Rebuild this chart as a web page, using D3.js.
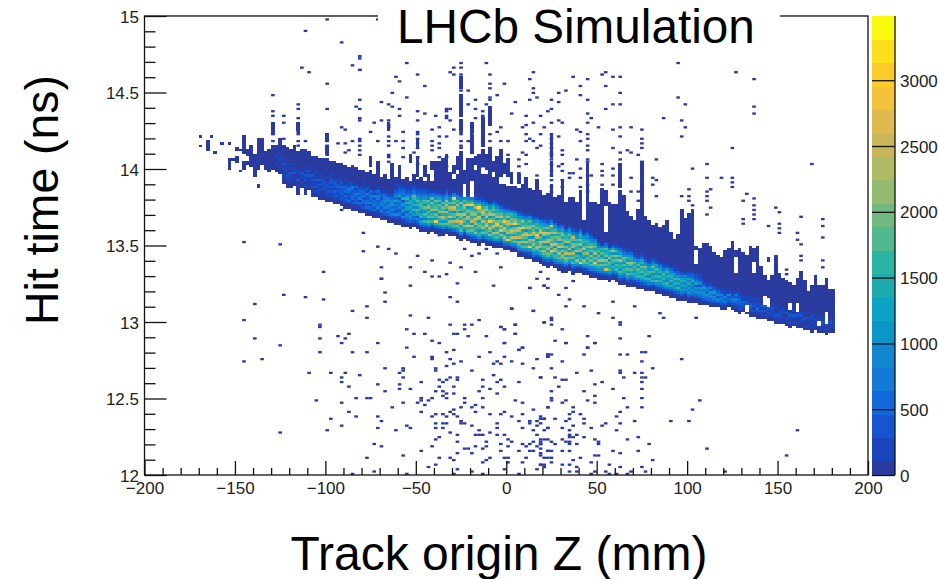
<!DOCTYPE html>
<html>
<head>
<meta charset="utf-8">
<script src="https://cdn.jsdelivr.net/npm/d3@7/dist/d3.min.js"></script>
<style>
html,body{margin:0;padding:0;background:#fff}
svg{display:block;font-family:"Liberation Sans",Arial,sans-serif}
</style>
</head>
<body>
<svg id="chart" width="939" height="579"></svg>
<script>
const xTitle = "Track origin Z (mm)";
const yTitle = "Hit time (ns)";
const chartTitle = "LHCb Simulation";
const zMajorTicks = [-200,-150,-100,-50,0,50,100,150,200];
const zMinorTicks = [-190,-180,-170,-160,-140,-130,-120,-110,-90,-80,-70,-60,-40,-30,-20,-10,10,20,30,40,60,70,80,90,110,120,130,140,160,170,180,190];
const tMajorTicks = [12,12.5,13,13.5,14,14.5,15];
const tMinorTicks = [12.1,12.2,12.3,12.4,12.6,12.7,12.8,12.9,13.1,13.2,13.3,13.4,13.6,13.7,13.8,13.9,14.1,14.2,14.3,14.4,14.6,14.7,14.8,14.9];
const countTicks = [0,500,1000,1500,2000,2500,3000];
const countMax = 3488;
const levelEdges = [103,281,459,637,815,993,1171,1349,1527,1705,1883,2061,2239,2417,2595,2773,2951,3129,3307];
const levelColors = ["#2a3a9f","#1a45bd","#1556d0","#1168d8","#137ad5","#1287d0","#0a97c8","#0ba4c6","#1eabb0","#2db5a3","#52b890","#72b97f","#94bb72","#b0ba62","#cab55b","#e0ba4e","#f3c13a","#fdcb28","#fadf1a","#f9f90e"];
const zBinWidth = 2, tBinWidth = 0.015;

// Loose vertical runs of low-count cells: [z column, first t bin, last t bin]
const looseRuns = [[15,143,143],[15,147,147],[17,141,145],[18,147,147],[19,140,140],[21,144,144],[23,144,144],[23,133,137],[24,137,137],[25,136,138],[25,141,142],[26,132,132],[26,141,141],[27,133,136],[27,140,147],[28,139,141],[28,135,136],[29,134,143],[30,130,139],[31,133,146],[31,125,126],[32,135,146],[33,133,140],[34,132,141],[35,133,143],
[73,136,139],[75,130,138],[77,130,134],[80,130,136],[81,130,136],[83,131,139],[85,131,134],[89,130,137],[92,132,139],[93,134,141],[95,131,142],[97,130,138],[98,130,141],[100,130,137],[62,134,138],[68,131,135],[70,131,134],[64,132,136],
[87,150,154],[87,156,165],[87,168,173],[95,152,160],[93,143,155],[90,140,147],[90,149,153],[67,150,153],[42,150,153],[35,148,153],[50,140,143],[50,145,148],[75,142,146],[112,130,136],[112,138,148],[137,124,136],[131,125,135],[122,124,135],
[79,133,136],[82,134,137],[86,133,138],[91,135,138],[94,133,139],[96,132,136],[99,131,135],[101,127,131],[103,127,130],[105,126,129],[108,125,128]];

// Main band, per z column from bandFirstColumn: lowest and highest filled t bin
const bandFirstColumn = 36;
const bandLowBin = [132,131,127,125,125,126,122,125,122,124,121,121,120,120,119,119,118,118,117,116,116,115,115,114,114,113,113,112,112,111,111,110,110,109,109,108,108,107,108,107,106,106,105,106,105,105,104,105,104,104,103,102,103,102,101,101,100,101,100,100,99,99,99,98,98,97,97,95,95,94,94,93,93,92,91,90,91,90,89,88,88,89,87,88,88,87,87,86,86,85,85,85,84,85,84,83,83,82,82,82,81,81,80,80,80,79,79,78,78,77,77,76,76,76,75,75,75,74,74,74,73,73,73,72,72,73,72,71,70,71,70,69,69,68,68,68,67,67,66,66,66,65,64,65,64,64,63,63,62,63,62,62,61,62,62];
const bandHighBin = [143,146,143,142,141,143,140,141,141,140,138,138,137,137,137,136,136,135,135,134,133,134,133,132,132,131,132,130,131,129,130,128,130,129,130,128,129,127,130,128,129,127,130,127,130,129,133,133,131,128,130,140,132,130,137,132,134,130,130,132,129,131,126,126,125,125,125,124,126,125,124,123,124,123,121,122,126,120,121,127,118,120,120,118,123,110,123,118,118,117,124,123,118,117,117,123,121,114,112,110,115,123,112,110,108,109,107,108,110,105,102,104,115,111,113,115,99,98,100,100,99,96,95,94,97,98,101,97,98,96,95,99,98,99,90,86,94,86,95,87,85,84,83,82,85,88,84,79,82,86,82,82,85,80,80];
// Cells left white inside the band: [z column, first t bin, last t bin]
const bandHoles = [[127,106,116],[152,92,97],[172,85,92],[188,66,70],[186,65,66],[171,74,77],[166,71,73],[172,73,76],[178,72,74],[180,71,74],[90,121,127],[88,121,126],[163,88,94],[168,88,92]];
// Colour level of each cell, climbing from the low bin (base-20 digit per cell); cells above are level 0
const bandLevels = [
"000100110","00010011010","000101102010","0001020110100","00101120101","0001021101","000110210110","00101120100","00011021201","001011202010",
"0010211202100","00102112101","001120212010","0010212211010","00112122101","001121212201","0012131222110","001212132110","00121322312010","0012231323101",
"00132223421100","00121332234110","0013223421310","00123142332100","00213324231101","001324322412100","0023142342310","00132433251200","001243324423110","00134254323210",
"0023253454321","001342453542100","0024343655321",
"0012523343635321010","00124325345274321100","00125246375283432100","00234526748595321100","00134647586984532110","0024365958679a43210","00135278a597a7532110",
"00247398579a98543210","0035947a68b59a65321","00147a5b8a6ca7b5421","002596a97c98b6a4310","00258h69b5ca97b6521","0035a79c6d98b5a7421","00147a6be8c9b7a5431","0036b79a8d6ae9c75321","00258ac6f97bd8a6531","0036a8d7ba5cf7b9h641",
"00257b8ea6d9b8e7a541","0036a97cf8bd6a97c6521","00258d7ab6e98cf7a631","0037a8f97cd8ba6ga752","00257b9d6ea8cb97hb741","0036c8a7dbf9ca7e96421","00259869ba7df8acia631","0036b7da8e96cfb96421","00257a98fca7eb8da631","0036c7be98ha6db9641",
"002589d6bf8ca7e7b9631","0036a8e97dhb6ca89531","00257c7fad8b8ea7631","0036ae96cf7bha98641","0036h97db8aed6c9631","00258ad7cf96eab8962","0035b8e7adb6hca7741","00257ac6e98df7b98631","0036a7d8be97ha8c7521","00146b8e7afc6da98631",
"00257h8ac6e98db7a641","00358a7d9e6bfa8c7531","00257be896dha7b89631","00147a7cbe8a6fd98641","00257ad8b7e96cf8a7631","00136ab7da6ec8af7b7421","00257ah6be8ca7d98g641","00358a7dc6e98b7d97531","00147b8d97fa6cb8a6421","001257ae8c6da8b7ca7531",
"00147ac7e98b6da98631","00257b8d6e97ca8b7631","00135a7b8d96cb7ae7421","00258c7a6d98b7a6531","0025h8975ca6d8b89631","00147ac68b7da798631","00257a8b6c97b8975421","00146a7b8c6a8d96531","00257ag8b6d97a8641","001469a7c8b7a8531",
"002468b7d96a7941","0035f7a8c6b97a531","00146a79b6c97941","00247968a7b6c831","00135a7a6b8c69421","00247a6987d6a7531","00146897a69b6421","00247b6a78c69631","0013597a6bd78531","00247968a7a6421",
"00135979a6a75210","0024796a8b697321","0013597a79b6521","00247958a67421","00149685a7b6421","00136a5976a5721","00245969597531","001368697a6421","00247956869621","00135859697531",
"0024758695631","00135958696321","0024757687421","0013647586521","00236474847321","00134636485321","0023546274321","00134546253211","002456374210","00346354210",
"002354625210","00245363210","0034253210","00234352110","0024342110","0023251100","002342110","00123424100","00213232110","012231100",
"0013221100","0012320110","0021211100","00123120100","001212100","010213010","0012120100","001112010","0012101100","010211010",
"001011100","0011021000","00101210100","010120100","0010121000","001102100","0100120100","001011010","0010102100","001020100",
"0010201000","010120100","0010211000","00102100","00101000"];

// Scattered single hits above the band: [z in mm, [t in ns, ...]]
const upperHits = [
[-129,[14.477,14.381,14.341,14.287,14.25,14.228,14.189]],[-123,[14.341,14.307,14.2]],[-115,[14.42,14.385,14.335,14.287,14.265,14.243,14.222,14.189,14.158]],
[-113,[14.664]],[-111,[14.898,14.178]],[-109,[14.625]],[-99,[14.981,14.551,14.387,14.21,14.189,14.156,14.123,14.09]],[-93,[14.163]],[-91,[14.83,14.28]],
[-89,[14.25,14.167,14.112]],[-87,[14.119]],[-85,[14.68,14.182]],[-83,[14.411]],[-81,[14.739,14.72,14.643,14.64,14.455,14.385,14.337,14.32,14.2,14.178,14.15,14.123,14.09]],
[-75,[14.237]],[-73,[14.298]],[-72,[14.981]],[-71,[14.189]],[-69,[14.433,14.311]],[-65,[14.418,14.324,14.287,14.265,14.21,14.182,14.15,14.1,14.07,14.05]],
[-63,[14.498,14.407]],[-61,[14.603,14.182]],[-59,[14.575,14.392,14.341]],[-57,[14.243,14.182,14.145,14.07]],[-55,[14.686,14.472]],[-51,[14.106]],
[-49,[14.614,14.378,14.32,14.243,14.222,14.2,14.171,14.145,14.07,14.036]],[-45,[14.535,14.357,14.014,13.98]],[-41,[14.25,14.189,14.15,14.119]],[-39,[14.348]],
[-37,[14.265,14.215,14.167,14.134,14.08,14.036,14.0]],[-33,[14.389,14.374,14.352,14.33,14.215,14.07,14.014]],[-31,[14.636,14.385,14.32]],[-29,[14.664,14.62,14.25]],
[-25,[14.69,14.668,14.614,14.581,14.559,14.538,14.511,14.476,14.429,14.4,14.374,14.341,14.309,14.265,14.243,14.222,14.189,14.156,14.134,14.1,14.069,14.036,14.0,13.97]],
[-21,[14.516,14.429,14.178]],[-19,[14.287,14.265,14.222,14.189,14.156,14.123,14.069,14.036,13.993]],[-17,[14.446,14.385,14.33]],
[-13,[14.374,14.352,14.33,14.298,14.265,14.243,14.21,14.189,14.156,14.123,14.058,14.014]],[-11,[14.69,14.418]],
[-9,[14.614,14.564,14.527,14.468,14.446,14.385,14.352,14.33,14.309,14.222,14.189,14.134,14.069,14.025,13.98]],[-5,[14.476,14.243,14.036]],[-3,[14.276,14.178,14.112,14.09,13.993]],
[-1,[14.559]],[1,[14.189,14.1,14.069,14.058]],[3,[14.357]],[5,[14.44]],[6,[14.069,14.014,13.977]],[9,[14.276,14.112]],[11,[14.346,14.287,14.228,14.189,14.1,14.032]],
[13,[14.588,14.45,14.2]],[15,[14.636,14.527,14.498,14.309,14.182]],[17,[14.461,14.141,13.96]],[19,[14.341,14.22,14.15]],[21,[14.265]],[23,[14.374]],
[25,[14.455,14.396,14.309,14.228,14.193,14.167,14.14,14.112,14.09,14.058,14.025,13.993,13.96,13.927,13.888,13.851]],[29,[14.498,14.44,14.315,14.206,14.014]],
[31,[14.309,14.123,14.1,14.032,13.993,13.927,13.888]],[33,[14.505]],[35,[13.975,13.949]],[37,[14.607,13.971]],[39,[14.254,14.065]],[41,[14.549,14.477,14.248,14.189,14.0,13.938,13.884]],
[45,[14.588,14.455,14.359,14.298,14.228,14.2,14.15,14.123,14.069,14.047,13.956,13.895,13.851]],[47,[14.337,13.96]],[51,[14.265]],[53,[14.62,14.025,13.988,13.96,13.895,13.851]],
[55,[14.636,14.538,14.396]],[59,[14.607,14.429,14.25,14.139,14.004,13.96,13.9]],[63,[14.607,14.498,14.418,14.276,14.206,14.112,14.058,14.014,13.971,13.927,13.895]],
[67,[14.119]],[69,[14.265,14.112,13.938,13.851]],[73,[14.09,13.851,13.796]],[75,[14.259,14.2,14.171,14.134,14.047,14.004,13.949,13.873,13.84]],[81,[13.949,13.905]],
[83,[14.069,13.927,13.823]],[87,[14.337]],[95,[14.686,14.468]],[97,[14.324,14.215,13.818]],[99,[14.424,14.276]],[101,[13.873,13.823,13.796]],[103,[14.0,13.764]],
[111,[14.032,13.949,13.851,13.823,13.796,13.698]],[113,[13.873,13.742]],[119,[13.945]],[125,[14.145,13.949,13.91,13.884]],[127,[14.636]],[131,[13.785,13.67,13.644]],[133,[13.84]],
[137,[14.581,14.4,14.363,13.807,13.764,13.731,13.698,13.676]],[145,[13.629]],[149,[13.753]],[151,[13.72,13.644,13.611,13.578]],[155,[13.35,13.317]],[161,[13.583,13.539]],
[163,[13.69,13.502,13.437,13.404]],[169,[14.04]],[175,[13.666,13.622,13.55,13.404,13.36]]];

// Scattered single hits below the band: [z in mm, t in ns]
const lowerHits = [
[-145,13.515],[-125,13.509],[-91,13.727],[-79,13.583],[-79,13.465],[-71,13.491],[-65,13.485],[-61,13.454],[-49,13.432],[-41,13.402],[-31,13.38],[-69,13.36],[-53,13.36],[-45,13.334],[-25,13.352],[-17,13.334],[-3,13.352],[-101,13.321],[-69,13.28],[-41,13.291],[-37,13.291],[-33,13.306],[-39,13.578],[-37,13.563],[-23,13.478],[-19,13.426],[-15,13.441],[-11,13.485],[-5,13.448],
[19,13.334],[17,13.278],[23,13.278],[37,13.267],[13,13.223],[21,13.236],[23,13.229],[33,13.223],[28,13.184],[35,13.149],[33,13.097],[43,13.097],[3,13.081],[15,13.066],[51,13.06],[59,13.136],[71,13.11],[59,13.029],[85,13.06],[87,13.029],[105,13.029],[25,13.029],[25,13.012],[21,12.996],[25,12.977],[31,12.955],[63,13.0],[63,12.985],[5,12.983],[-3,12.968],[-1,12.955],[5,12.925],[45,12.907],[27,12.885],[33,12.863],[63,12.892],[79,12.907],[49,12.855],[45,12.833],[9,12.833],[7,12.822],[-1,12.863],
[-123.3,13.179],[-110.7,13.166],[-100.8,13.155],[-138.9,13.118],[-66.8,13.192],[-66.8,13.127],[-68.6,13.275],[-53.2,13.231],[-26.8,13.253],[-7.2,13.24],[12.9,13.225],[21.2,13.24],[-31.1,13.166],[-26.8,13.133],[-77.3,13.098],[-85,13.074],[2.8,13.083],[15.1,13.068],[-77.3,13.022],[-53.2,13.035],[-43,13.029],[-144.8,13.005],[-31.1,12.987],[-23,12.979],[-19,12.979],[-14.9,13.005],[21.2,12.998],[4.8,12.987],[-3.1,12.968],[-1.1,12.955],[-23,12.955],[-102.8,12.976],[-102.8,12.963],[-55,12.946],[-51,12.924],[-45.1,12.917],[-28.9,12.93],[-26.8,12.924],[4.8,12.924],[-21,12.907],[-11,12.907],[-92.9,12.907],[-87,12.917],[-138.9,12.894],[-102.8,12.894],[-89,12.887],[-41,12.88],[-37.1,12.865],[-70.8,12.87],[-1.1,12.865],[-125,12.85],[-91,12.856],[-55,12.832],[8.9,12.832],[6.8,12.819],[-102.8,12.806],[-85,12.806],[-77.3,12.806],[-33.3,12.806],[-30,12.813],[-9,12.795],[-51,12.774],[-41,12.774],[-41,12.752],[-1.1,12.774],[-14.9,12.767],[-31.1,12.758],[-24.8,12.739],[-5.1,12.745],[2.8,12.745],[-144.8,12.745],[-134.9,12.756],[17.1,12.752],[23,12.785],[23,12.767],[8.9,12.73],[-7,12.721],[-3.1,12.721],[-28.9,12.721],[-33.3,12.713],[15.1,12.7],[-39.2,12.7],[-66.8,12.691],[-57,12.697],[-57,12.682],[-58.9,12.669],[-40,12.675],[-19,12.675],[-108.9,12.669],[-97,12.669],[-89,12.66],[-81.3,12.654],[-57,12.645],[-31.1,12.645],[-26.8,12.645],[-26.8,12.623],[-7,12.654],[19.2,12.645],[-91,12.632],[-37.1,12.623],[-33.3,12.617],[-13,12.623],[-3.1,12.623],[-91,12.601],[-47.8,12.608],[-35.3,12.601],[-5.1,12.601],[6.8,12.601],[-70.8,12.595],[-58.9,12.595],[-87,12.58],[-37.1,12.571],[-28.9,12.575],[-13,12.571],[-9,12.56],[-1.3,12.58],[-53,12.564],[-58.9,12.556],[-66.8,12.542],[-39.2,12.542],[-35.3,12.542],[-14.9,12.549],[-5.1,12.529],[-35.3,12.519],[-28.9,12.527],[-33.3,12.527],[-47,12.51],[-41,12.505],[-23,12.51],[-83,12.505],[-77.3,12.497],[-75,12.505],[-33.3,12.497],[-13,12.497],[4.8,12.49],[-104.9,12.482],[-91,12.468],[-57,12.468],[-49.1,12.475],[-47,12.482],[-43,12.49],[-23,12.475],[8.9,12.475],[-45.1,12.458],[-16.9,12.458],[-62.9,12.444],[-25,12.438],[-19,12.444],[-13,12.438],[15.1,12.429],[23,12.438],[-87,12.42],[-47,12.414],[-28.9,12.425],[-16.9,12.407],[-1.1,12.407],[-9,12.399],[-39.2,12.394],[-31.1,12.407],[-28.9,12.394],[-83,12.383],[-70.8,12.377],[-41,12.377],[-35.3,12.39],[-34,12.377],[-26.8,12.377],[-3.1,12.39],[2.8,12.377],[8.9,12.399],[-97,12.368],[-68.8,12.357],[-24.8,12.353],[6.8,12.359],[13.1,12.353],[17.1,12.353],[19.2,12.377],[21.2,12.368],[-91,12.325],[-55,12.318],[-39.2,12.331],[-35.3,12.331],[-33.3,12.338],[-25,12.331],[-23,12.331],[-19,12.32],[-5.1,12.331],[13.1,12.338],[17.1,12.325],[-70.8,12.309],[-39.2,12.309],[-35.3,12.3],[-5.1,12.309],[8.9,12.309],[23,12.3],[-99,12.294],[-61,12.294],[-53,12.309],[-14.9,12.294],[-125,12.279],[-31.1,12.279],[-9,12.279],[15.1,12.287],[-26.8,12.257],[-16.9,12.257],[-14.9,12.257],[-13,12.263],[-5.1,12.263],[-1.1,12.27],[17.1,12.257],[-37.1,12.24],[-39.2,12.233],[1,12.233],[21.2,12.233],[19.2,12.224],[-26.8,12.22],[-11,12.211],[2.8,12.211],[15.1,12.211],[-72.8,12.196],[-68.8,12.189],[-41,12.189],[-3.1,12.205],[8.9,12.205],[11,12.189],[13.1,12.196],[19.2,12.205],[-16.9,12.183],[-11,12.183],[1,12.183],[17.1,12.181],[-23,12.174],[-21,12.174],[-13,12.174],[-4,12.165],[6.8,12.161],[-47,12.165],[15.1,12.159],[12.9,12.15],[23,12.15],[-26.8,12.146],[-19,12.146],[-57,12.135],[19.2,12.137],[1,12.113],[-9,12.12],[-31.1,12.12],[-77.3,12.107],[-37.1,12.107],[-1.1,12.107],[-28.9,12.098],[10.7,12.113],[21.2,12.113],[-11,12.098],[1,12.083],[-39.2,12.07],[-13,12.078],[8.9,12.083],[-43,12.054],[-26.8,12.045],[-1.1,12.045],[17.1,12.045],[19.2,12.07],[21.2,12.054],[-19,12.024],[-28.9,12.011],[-85,12.006],[-72.8,12.022],[6.8,12.006],[-55,12.001],[-13,12.001],
[33,12.865],[45,12.834],[49,12.856],[23,12.788],[25,12.782],[23,12.766],[43,12.788],[63,12.782],[66,12.782],[75,12.806],[77,12.804],[75,12.747],[31,12.738],[97,12.758],[81,12.699],[25,12.692],[19.6,12.644],[27,12.644],[39,12.662],[47,12.675],[63,12.675],[63,12.662],[71,12.668],[75,12.668],[65,12.631],[75,12.631],[77,12.631],[31,12.616],[33,12.625],[49,12.594],[53,12.601],[75,12.601],[29,12.57],[25,12.555],[43,12.555],[59,12.564],[75,12.564],[49,12.518],[25,12.503],[25,12.487],[33,12.494],[45,12.494],[65,12.503],[75,12.503],[31,12.468],[49,12.468],[107,12.481],[23,12.437],[37,12.442],[37,12.42],[67,12.437],[75,12.437],[103,12.429],[41,12.405],[63,12.413],[35,12.392],[19.6,12.374],[21,12.368],[27,12.368],[35,12.368],[33,12.354],[43,12.368],[61,12.376],[71,12.359],[91,12.354],[101,12.346],[19.6,12.337],[37,12.324],[43,12.33],[55,12.337],[63,12.337],[53,12.317],[21,12.293],[23,12.3],[31,12.3],[35,12.293],[47,12.3],[61,12.293],[161,12.293],[35,12.269],[39,12.269],[37,12.254],[43,12.241],[35,12.241],[73,12.241],[23,12.232],[19.6,12.226],[25,12.219],[31,12.226],[33,12.217],[35,12.217],[49,12.226],[67,12.232],[27,12.208],[19.6,12.202],[35,12.202],[39,12.202],[51,12.202],[51,12.215],[79,12.202],[111,12.171],[19.6,12.173],[35,12.165],[25,12.158],[23,12.15],[31,12.15],[59,12.15],[63,12.143],[73,12.165],[19.6,12.134],[155,12.134],[22,12.112],[24,12.112],[41,12.112],[49,12.128],[51,12.128],[81,12.097],[37,12.091],[47,12.082],[25,12.082],[21,12.075],[19.6,12.067],[35,12.075],[31,12.067],[21,12.051],[39,12.051],[57,12.06],[63,12.051],[75,12.058],[49,12.03],[55,12.021],[35,12.021],[39,12.03],[47,12.014],[57,12.006],[61,12.006],[67,12.006],[69,12.03],[77,12.03],[121,12.021]];

const svg = d3.select("#chart");
const x = d3.scaleLinear().domain([-200,200]).range([144.5,868]);
const y = d3.scaleLinear().domain([12,15]).range([475,16]);
const barY = d3.scaleLinear().domain([0,countMax]).range([475,16]);
const heat = d3.scaleThreshold().domain(levelEdges).range(levelColors);
const countOfLevel = l => l === 0 ? 50 : l >= levelEdges.length ? countMax : (levelEdges[l-1]+levelEdges[l])/2;
const zOfCol = c => -200 + c*zBinWidth;
const tOfBin = b => 12 + b*tBinWidth;
const isHole = (c,b) => bandHoles.some(([hc,a,e]) => hc===c && b>=a && b<=e);

const bandCells = [];
bandLowBin.forEach((low,i)=>{
  const col = bandFirstColumn+i, s = bandLevels[i], top = Math.max(bandHighBin[i], low+s.length-1);
  for(let b=low;b<=top;b++){
    const ch = s[b-low];
    if(!isHole(col,b)) bandCells.push({col,bin:b,count:countOfLevel(ch?parseInt(ch,20):0)});
  }
});
const looseCells = [];
looseRuns.forEach(([col,a,b])=>{for(let k=a;k<=b;k++)looseCells.push({col,bin:k,count:countOfLevel(0)});});

const scatterCells = [];
upperHits.forEach(([z,ts])=>ts.forEach(t=>scatterCells.push({z,t})));
lowerHits.forEach(([z,t])=>scatterCells.push({z,t}));
scatterCells.forEach(d=>{d.col=Math.floor((d.z+200)/zBinWidth);d.bin=Math.floor((d.t-12)/tBinWidth);d.count=countOfLevel(0);});

const drawCells=(cls,data,render)=>svg.append("g").attr("class",cls).attr("shape-rendering",render)
  .selectAll("rect").data(data).join("rect")
  .attr("x",d=>x(zOfCol(d.col))).attr("width",d=>x(zOfCol(d.col+1))-x(zOfCol(d.col)))
  .attr("y",d=>y(tOfBin(d.bin+1))).attr("height",d=>y(tOfBin(d.bin))-y(tOfBin(d.bin+1)))
  .attr("fill",d=>heat(d.count));
drawCells("scatter",scatterCells,"geometricPrecision");
drawCells("loose",looseCells,"crispEdges");
drawCells("band",bandCells,"crispEdges");

// Palette bar
const barEdges=[0,...levelEdges,countMax];
svg.append("g").selectAll("rect").data(d3.pairs(barEdges)).join("rect")
  .attr("x",872).attr("width",23)
  .attr("y",d=>barY(d[1])).attr("height",d=>barY(d[0])-barY(d[1]))
  .attr("fill",d=>heat((d[0]+d[1])/2)).attr("shape-rendering","crispEdges");

// Frame
const ink="#111";
const frame=svg.append("g").attr("fill","none").attr("stroke",ink).attr("stroke-width",1.3);
frame.append("rect").attr("x",x(-200)).attr("y",y(15)).attr("width",x(200)-x(-200)).attr("height",y(12)-y(15));
frame.append("line").attr("x1",895).attr("x2",895).attr("y1",16).attr("y2",475);
svg.append("rect").attr("x",378).attr("y",0).attr("width",402).attr("height",24).attr("fill","#fff");

// Axes
const styleAxis=g=>{g.select(".domain").remove();g.selectAll("line").attr("stroke",ink).attr("stroke-width",1.3);
  g.selectAll("text").attr("fill","#222").attr("font-size",17).attr("font-family",'"Liberation Sans",Arial,sans-serif');};
svg.append("g").attr("transform","translate(0,475)")
  .call(d3.axisBottom(x).tickValues(zMinorTicks).tickSize(-7).tickFormat(""))
  .call(styleAxis);
svg.append("g").attr("transform","translate(0,475)")
  .call(d3.axisBottom(x).tickValues(zMajorTicks).tickSize(-14))
  .call(styleAxis)
  .call(g=>g.selectAll("text").attr("y",19).attr("dy",0));
svg.append("g").attr("transform","translate(144.5,0)")
  .call(d3.axisLeft(y).tickValues(tMinorTicks).tickSize(-11).tickFormat(""))
  .call(styleAxis);
svg.append("g").attr("transform","translate(144.5,0)")
  .call(d3.axisLeft(y).tickValues(tMajorTicks).tickSize(-22).tickFormat(d3.format("~g")))
  .call(styleAxis)
  .call(g=>g.selectAll("text").attr("x",-5.5).attr("dy",6));
svg.append("g").attr("transform","translate(895,0)")
  .call(d3.axisRight(barY).tickValues(countTicks).tickSize(-23).tickFormat(d3.format("d")))
  .call(styleAxis)
  .call(g=>g.selectAll("text").attr("x",5).attr("dy",6));

// Titles
svg.append("text").attr("x",397).attr("y",43).attr("font-size",47.7).attr("fill","#000").text(chartTitle);
svg.append("text").attr("x",499).attr("y",570).attr("text-anchor","middle").attr("font-size",48).attr("fill","#000").text(xTitle);
svg.append("text").attr("transform","translate(58,200) rotate(-90)").attr("text-anchor","middle").attr("font-size",46.4).attr("fill","#000").text(yTitle);
</script>
</body>
</html>
